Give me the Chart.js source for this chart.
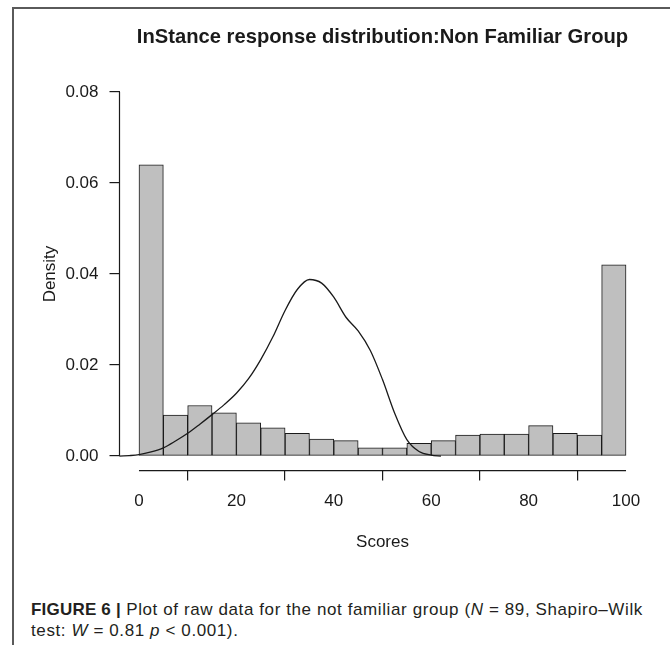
<!DOCTYPE html>
<html>
<head>
<meta charset="utf-8">
<script src="https://cdn.jsdelivr.net/npm/chart.js@4/dist/chart.umd.min.js"></script>
<style>
html,body{margin:0;padding:0;background:#fff;width:670px;height:645px;overflow:hidden;}
#frame{position:absolute;left:12px;top:7px;width:660px;height:640px;border-left:2px solid #5a5a5a;border-top:2px solid #5a5a5a;}
#c{position:absolute;left:0;top:0;}
.cap{position:absolute;left:31px;font-family:"Liberation Sans",Arial,sans-serif;font-size:17px;letter-spacing:0.6px;line-height:20px;color:#231f20;white-space:nowrap;}
.cap b{font-weight:bold;letter-spacing:0.2px;}
</style>
</head>
<body>
<div id="frame"></div>
<canvas id="c" width="670" height="565"></canvas>
<div class="cap" id="cap1" style="top:600px;"><b>FIGURE 6 |</b> Plot of raw data for the not familiar group (<i>N</i> = 89, Shapiro–Wilk</div>
<div class="cap" id="cap2" style="top:621px;">test: <i>W</i> = 0.81 <i>p</i> &lt; 0.001).</div>
<script>
// ---- data ----
const titleText = "InStance response distribution:Non Familiar Group";
const xLabel = "Scores";
const yLabel = "Density";
const binCenters = [2.5, 7.5, 12.5, 17.5, 22.5, 27.5, 32.5, 37.5, 42.5, 47.5, 52.5, 57.5, 62.5, 67.5, 72.5, 77.5, 82.5, 87.5, 92.5, 97.5];
const binDensity = [0.0640, 0.0090, 0.0111, 0.0095, 0.0073, 0.0062, 0.0050, 0.0037, 0.0034, 0.0018, 0.0018, 0.0028, 0.0034, 0.0046, 0.0048, 0.0048, 0.0067, 0.0050, 0.0046, 0.0420];
const curveX = [-8, -4, -2, 0, 2.5, 5, 7.5, 10, 12.5, 15, 17.5, 20, 22.5, 25, 27.5, 30, 32.5, 35, 37.5, 40, 42.5, 45, 47.5, 50, 52.5, 55, 57.5, 60, 62];
const curveY = [0, 0, 0.0001, 0.0003, 0.0009, 0.0018, 0.0033, 0.0050, 0.0070, 0.0091, 0.0113, 0.0138, 0.0170, 0.0212, 0.0262, 0.0320, 0.0366, 0.0388, 0.0380, 0.0349, 0.0305, 0.0275, 0.0232, 0.0168, 0.0094, 0.0036, 0.0010, 0.0002, 0];
const xTicks = [0, 20, 40, 60, 80, 100];
const yTicks = [0, 0.02, 0.04, 0.06, 0.08];

const FONT = '"Liberation Sans", Arial, sans-serif';
const INK = '#1a1a1a';

const rAxes = {
  id: 'rAxes',
  afterDraw(chart) {
    const ctx = chart.ctx, xs = chart.scales.x, ys = chart.scales.y, ca = chart.chartArea;
    ctx.save();
    ctx.strokeStyle = INK;
    ctx.lineWidth = 1.2;
    ctx.beginPath();
    ctx.moveTo(ca.left, ys.getPixelForValue(yTicks[0]));
    ctx.lineTo(ca.left, ys.getPixelForValue(yTicks[yTicks.length - 1]));
    ctx.moveTo(xs.getPixelForValue(xTicks[0]), ca.bottom);
    ctx.lineTo(xs.getPixelForValue(xTicks[xTicks.length - 1]), ca.bottom);
    ctx.stroke();
    ctx.fillStyle = INK;
    ctx.font = '17px ' + FONT;
    ctx.textAlign = 'center';
    ctx.textBaseline = 'middle';
    ctx.fillText(xLabel, (ca.left + ca.right) / 2, 542);
    ctx.translate(50, (ca.top + ca.bottom) / 2);
    ctx.rotate(-Math.PI / 2);
    ctx.fillText(yLabel, 0, 0);
    ctx.restore();
  }
};

new Chart(document.getElementById('c'), {
  type: 'bar',
  data: {
    datasets: [
      {
        type: 'line',
        data: curveX.map((x, i) => ({x: x, y: curveY[i]})),
        borderColor: INK,
        borderWidth: 1.3,
        pointRadius: 0,
        cubicInterpolationMode: 'monotone',
        fill: false,
        order: 0
      },
      {
        type: 'bar',
        data: binCenters.map((x, i) => ({x: x, y: binDensity[i]})),
        backgroundColor: '#bfbfbf',
        borderColor: INK,
        borderWidth: 1,
        borderSkipped: false,
        barPercentage: 1,
        categoryPercentage: 1,
        order: 1
      }
    ]
  },
  options: {
    responsive: false,
    animation: false,
    devicePixelRatio: 1,
    layout: {padding: {left: 0, right: 24.5, top: 0, bottom: 565 - 470.6 - 60}},
    plugins: {
      legend: {display: false},
      tooltip: {enabled: false},
      title: {
        display: true,
        text: titleText,
        fullSize: false,
        color: INK,
        font: {family: FONT, size: 20.2, weight: 'bold', lineHeight: 1.2},
        padding: {top: 25.3, bottom: 27.9}
      }
    },
    scales: {
      x: {
        type: 'linear',
        min: -4, max: 104,
        offset: false,
        afterFit: s => { s.height = 60; },
        afterBuildTicks: s => { s.ticks = xTicks.map(v => ({value: v})); },
        grid: {display: true, drawOnChartArea: false, drawTicks: true, tickLength: 10, color: INK, lineWidth: 1.2},
        border: {display: false},
        ticks: {autoSkip: false, maxRotation: 0, padding: 11, color: INK, font: {family: FONT, size: 17}, callback: v => String(v)}
      },
      y: {
        type: 'linear',
        min: -0.0032, max: 0.0832,
        afterFit: s => { s.width = 119.5; },
        afterBuildTicks: s => { s.ticks = yTicks.map(v => ({value: v})); },
        grid: {display: true, drawOnChartArea: false, drawTicks: true, tickLength: 10, color: INK, lineWidth: 1.2},
        border: {display: false},
        ticks: {autoSkip: false, padding: 11, color: INK, font: {family: FONT, size: 17}, callback: v => v.toFixed(2)}
      }
    }
  },
  plugins: [rAxes]
});
</script>
</body>
</html>
